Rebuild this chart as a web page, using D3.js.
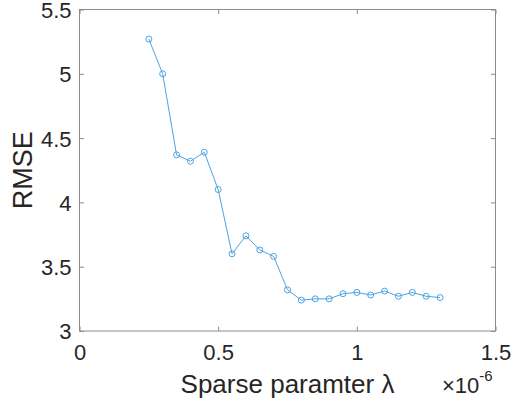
<!DOCTYPE html>
<html>
<head>
<meta charset="utf-8">
<script src="https://cdn.jsdelivr.net/npm/d3@7"></script>
<style>
  body { margin: 0; background: #fff; }
  text { font-family: "Liberation Sans", Arial, sans-serif; fill: #262626; }
</style>
</head>
<body>
<script>
// sparse parameter (x 1e-6) and RMSE
const lambdas = [0.25, 0.3, 0.35, 0.4, 0.45, 0.5, 0.55, 0.6, 0.65, 0.7, 0.75,
  0.8, 0.85, 0.9, 0.95, 1.0, 1.05, 1.1, 1.15, 1.2, 1.25, 1.3];
const rmse = [5.27, 5.0, 4.37, 4.32, 4.39, 4.1, 3.6, 3.74, 3.63, 3.58, 3.32,
  3.24, 3.25, 3.25, 3.29, 3.30, 3.28, 3.31, 3.27, 3.30, 3.27, 3.26];
const xTicks = [0, 0.5, 1, 1.5];
const yTicks = [3, 3.5, 4, 4.5, 5, 5.5];

const width = 515,
  height = 408;
const margin = { top: 9.5, right: 19.5, bottom: 77, left: 79.5 };

const svg = d3
  .select('body')
  .append('svg')
  .attr('width', width)
  .attr('height', height);

const x = d3.scaleLinear().domain([0, 1.5]).range([margin.left, width - margin.right]);
const y = d3.scaleLinear().domain([3, 5.5]).range([height - margin.bottom, margin.top]);

const axisColor = '#8c8c8c';
const tickLen = 4.5;

// box
svg.append('rect')
  .attr('x', x(0))
  .attr('y', y(5.5))
  .attr('width', x(1.5) - x(0))
  .attr('height', y(3) - y(5.5))
  .attr('fill', 'none')
  .attr('stroke', axisColor)
  .attr('stroke-width', 1);

// bottom axis, ticks inside
const gx = svg.append('g')
  .attr('transform', `translate(0,${y(3)})`)
  .call(d3.axisBottom(x).tickValues(xTicks).tickSizeInner(-tickLen).tickSizeOuter(0)
    .tickPadding(10).tickFormat(d3.format('')));
gx.select('.domain').remove();
gx.selectAll('line').attr('stroke', axisColor);
gx.selectAll('text').style('font-size', '22px').attr('dy', '0.72em').attr('y', 13.5);

// top ticks
svg.append('g')
  .attr('transform', `translate(0,${y(5.5)})`)
  .call(d3.axisTop(x).tickValues(xTicks).tickSizeInner(-tickLen).tickSizeOuter(0).tickFormat(''))
  .call(g => g.select('.domain').remove())
  .selectAll('line').attr('stroke', axisColor);

// left axis
const gy = svg.append('g')
  .attr('transform', `translate(${x(0)},0)`)
  .call(d3.axisLeft(y).tickValues(yTicks).tickSizeInner(-tickLen).tickSizeOuter(0)
    .tickPadding(8).tickFormat(d3.format('')));
gy.select('.domain').remove();
gy.selectAll('line').attr('stroke', axisColor);
gy.selectAll('text').style('font-size', '22px').attr('x', -8).attr('dy', '0.36em');

// right ticks
svg.append('g')
  .attr('transform', `translate(${x(1.5)},0)`)
  .call(d3.axisRight(y).tickValues(yTicks).tickSizeInner(-tickLen).tickSizeOuter(0).tickFormat(''))
  .call(g => g.select('.domain').remove())
  .selectAll('line').attr('stroke', axisColor);

// data line
const pts = lambdas.map((d, i) => [d, rmse[i]]);
const lineColor = '#4da3e2';

svg.append('path')
  .datum(pts)
  .attr('fill', 'none')
  .attr('stroke', lineColor)
  .attr('stroke-width', 1)
  .attr('d', d3.line().x(d => x(d[0])).y(d => y(d[1])));

svg.selectAll('.marker')
  .data(pts)
  .enter()
  .append('circle')
  .attr('class', 'marker')
  .attr('cx', d => x(d[0]))
  .attr('cy', d => y(d[1]))
  .attr('r', 3)
  .attr('fill', 'none')
  .attr('stroke', lineColor)
  .attr('stroke-width', 1);

// labels
svg.append('text')
  .attr('x', (x(0) + x(1.5)) / 2)
  .attr('y', 392.5)
  .attr('text-anchor', 'middle')
  .style('font-size', '26px')
  .text('Sparse paramter λ');

svg.append('text')
  .attr('transform', `translate(31.5,${(y(3) + y(5.5)) / 2}) rotate(-90)`)
  .attr('text-anchor', 'middle')
  .style('font-size', '27px')
  .text('RMSE');

// exponent
const ex = svg.append('text')
  .attr('x', 442)
  .attr('y', 393)
  .style('font-size', '22px');
ex.append('tspan').text('×10');
ex.append('tspan').attr('dy', -12).style('font-size', '15px').text('-6');
</script>
</body>
</html>
